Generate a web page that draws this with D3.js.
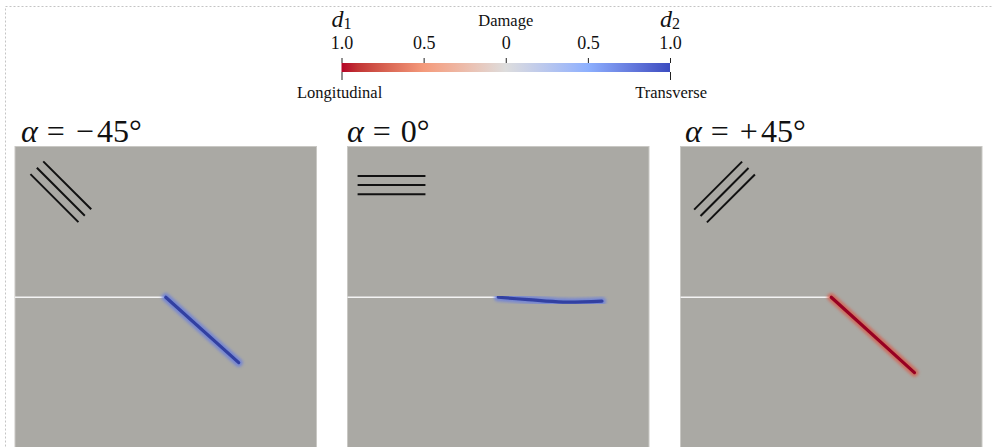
<!DOCTYPE html>
<html>
<head>
<meta charset="utf-8">
<script src="https://cdn.jsdelivr.net/npm/d3@7"></script>
<style>
  body { margin: 0; background: #fff; }
</style>
</head>
<body>
<div id="chart"></div>
<script>
const width = 992;
const height = 447;
const serif = '"Liberation Serif", "DejaVu Serif", "Times New Roman", Times, serif';

// colour bar: -1 = d1 (longitudinal), +1 = d2 (transverse)
const cmapStops = [-1, -0.5, 0, 0.5, 1];
const cmapColors = ['#b40426', '#f49a7b', '#dddddd', '#8db0fe', '#3b4cc0'];
const tickValues = [-1, -0.5, 0, 0.5, 1];
const tickLabels = ['1.0', '0.5', '0', '0.5', '1.0'];

// panels (specimen coords 0..1, y up)
const titleSigns = ['\u2212', '', '+'];
const titleNumbers = ['45\u00b0', '0\u00b0', '45\u00b0'];
const fiberAngles = [-45, 0, 45];
const fiberCenters = [[0.152, 0.850], [0.146, 0.872], [0.146, 0.849]];
const crackDamage = [1, 1, -1];
const crackNeg45 = [[0.5, 0.5], [0.742, 0.283]];
const crackZero = [[0.5, 0.5], [0.6, 0.492], [0.715, 0.484], [0.844, 0.487]];
const crackPos45 = [[0.5, 0.5], [0.776, 0.25]];
const cracks = [crackNeg45, crackZero, crackPos45];
const notch = [[0, 0.5], [0.5, 0.5]];

const panelLeft = [15, 347.5, 680.5];
const titleLeft = [21, 347, 685];
const panelTop = 146.5;
const panelSize = 301.5;
const fiberLength = 0.225;
const fiberSpacing = 0.03;

const svg = d3.select('#chart')
    .append('svg')
    .attr('width', width)
    .attr('height', height)
    .style('font-family', serif);

const defs = svg.append('defs');

// dotted frame
svg.append('rect')
    .attr('x', 5.5).attr('y', 6.5)
    .attr('width', 1000).attr('height', 500)
    .attr('fill', 'none')
    .attr('stroke', '#c4c4c4')
    .attr('stroke-dasharray', '2,2');

const color = d3.scaleLinear().domain(cmapStops).range(cmapColors).interpolate(d3.interpolateLab);

// colour bar
const cb = d3.scaleLinear().domain([-1, 1]).range([341.5, 670]);
const grad = defs.append('linearGradient').attr('id', 'cmap');
d3.range(0, 1.0001, 0.05).forEach(t => {
    grad.append('stop')
        .attr('offset', t)
        .attr('stop-color', color(-1 + 2 * t));
});

svg.append('rect')
    .attr('x', cb(-1)).attr('y', 63)
    .attr('width', cb(1) - cb(-1)).attr('height', 9)
    .attr('fill', 'url(#cmap)');

const topAxis = d3.axisTop(cb)
    .tickValues(tickValues)
    .tickSize(5)
    .tickFormat((d, i) => tickLabels[i]);
const gTop = svg.append('g')
    .attr('transform', 'translate(0,63)')
    .call(topAxis)
    .attr('font-family', null);
gTop.select('.domain').remove();
gTop.selectAll('line').attr('stroke', '#222');
gTop.selectAll('text')
    .attr('y', -14)
    .style('font-family', serif)
    .style('font-size', '18px')
    .attr('fill', '#111');

const bottomAxis = d3.axisBottom(cb)
    .tickValues([-1, 1])
    .tickSize(8)
    .tickFormat(() => '');
const gBottom = svg.append('g')
    .attr('transform', 'translate(0,72)')
    .call(bottomAxis);
gBottom.select('.domain').remove();
gBottom.selectAll('line').attr('stroke', '#222');

svg.append('text')
    .attr('x', cb(0)).attr('y', 26)
    .attr('text-anchor', 'middle')
    .style('font-family', serif)
    .style('font-size', '16.5px')
    .attr('fill', '#111')
    .text('Damage');

[[-1, '1'], [1, '2']].forEach(([v, sub]) => {
    const t = svg.append('text')
        .attr('x', cb(v) - 10).attr('y', 27)
        .style('font-family', serif)
        .style('font-size', '24px')
        .attr('fill', '#111');
    t.append('tspan').style('font-style', 'italic').text('d');
    t.append('tspan').attr('dy', 2).style('font-size', '16px').text(sub);
});

svg.append('text')
    .attr('x', 297).attr('y', 98)
    .style('font-family', serif)
    .style('font-size', '16.5px')
    .attr('fill', '#111')
    .text('Longitudinal');
svg.append('text')
    .attr('x', 707).attr('y', 98)
    .attr('text-anchor', 'end')
    .style('font-family', serif)
    .style('font-size', '16.5px')
    .attr('fill', '#111')
    .text('Transverse');

// blur filters for the damage bands
const glow = defs.append('filter').attr('id', 'glow')
    .attr('x', '-20%').attr('y', '-20%').attr('width', '140%').attr('height', '140%');
glow.append('feGaussianBlur').attr('stdDeviation', 1.8);
const soft = defs.append('filter').attr('id', 'soft')
    .attr('x', '-20%').attr('y', '-20%').attr('width', '140%').attr('height', '140%');
soft.append('feGaussianBlur').attr('stdDeviation', 0.7);

// panels
titleNumbers.forEach((num, i) => {
    const x = d3.scaleLinear().domain([0, 1]).range([panelLeft[i], panelLeft[i] + panelSize]);
    const y = d3.scaleLinear().domain([0, 1]).range([panelTop + panelSize, panelTop]);
    const g = svg.append('g');

    const t = g.append('text')
        .attr('x', titleLeft[i]).attr('y', 142)
        .style('font-family', serif)
        .style('font-size', '32px')
        .attr('fill', '#111');
    t.append('tspan').style('font-style', 'italic').text('\u03b1');
    t.append('tspan').attr('dx', 9).text('=');
    if (titleSigns[i]) {
        t.append('tspan').attr('dx', 11).text(titleSigns[i]);
        t.append('tspan').attr('dx', 3).text(num);
    } else {
        t.append('tspan').attr('dx', 10).text(num);
    }

    g.append('rect')
        .attr('x', x(0)).attr('y', y(1))
        .attr('width', x(1) - x(0)).attr('height', y(0) - y(1))
        .attr('fill', '#aaa9a4')
        .attr('stroke', '#c9c8c4')
        .attr('stroke-width', 1);

    // fibre orientation symbol
    const a = fiberAngles[i] * Math.PI / 180;
    const [cx, cy] = fiberCenters[i];
    [-1, 0, 1].forEach(k => {
        const ox = cx - Math.sin(a) * k * fiberSpacing;
        const oy = cy + Math.cos(a) * k * fiberSpacing;
        g.append('line')
            .attr('x1', x(ox - Math.cos(a) * fiberLength / 2))
            .attr('y1', y(oy - Math.sin(a) * fiberLength / 2))
            .attr('x2', x(ox + Math.cos(a) * fiberLength / 2))
            .attr('y2', y(oy + Math.sin(a) * fiberLength / 2))
            .attr('stroke', '#111')
            .attr('stroke-width', 2);
    });

    // initial notch
    g.append('path')
        .attr('d', d3.line().x(d => x(d[0])).y(d => y(d[1]))(notch))
        .attr('stroke', '#f4f4f4')
        .attr('stroke-width', 1.6)
        .attr('fill', 'none');

    // crack path (damage band)
    const line = d3.line().x(d => x(d[0])).y(d => y(d[1])).curve(d3.curveCatmullRom);
    const c = d3.color(color(crackDamage[i])).darker(0.5);
    const halo = color(crackDamage[i] * 0.75);
    g.append('path')
        .attr('d', line(cracks[i]))
        .attr('stroke', halo)
        .attr('stroke-width', 8)
        .attr('stroke-linecap', 'round')
        .attr('fill', 'none')
        .attr('opacity', 0.8)
        .attr('filter', 'url(#glow)');
    g.append('path')
        .attr('d', line(cracks[i]))
        .attr('stroke', c)
        .attr('stroke-width', 3.2)
        .attr('stroke-linecap', 'round')
        .attr('fill', 'none')
        .attr('filter', 'url(#soft)');
});
</script>
</body>
</html>
